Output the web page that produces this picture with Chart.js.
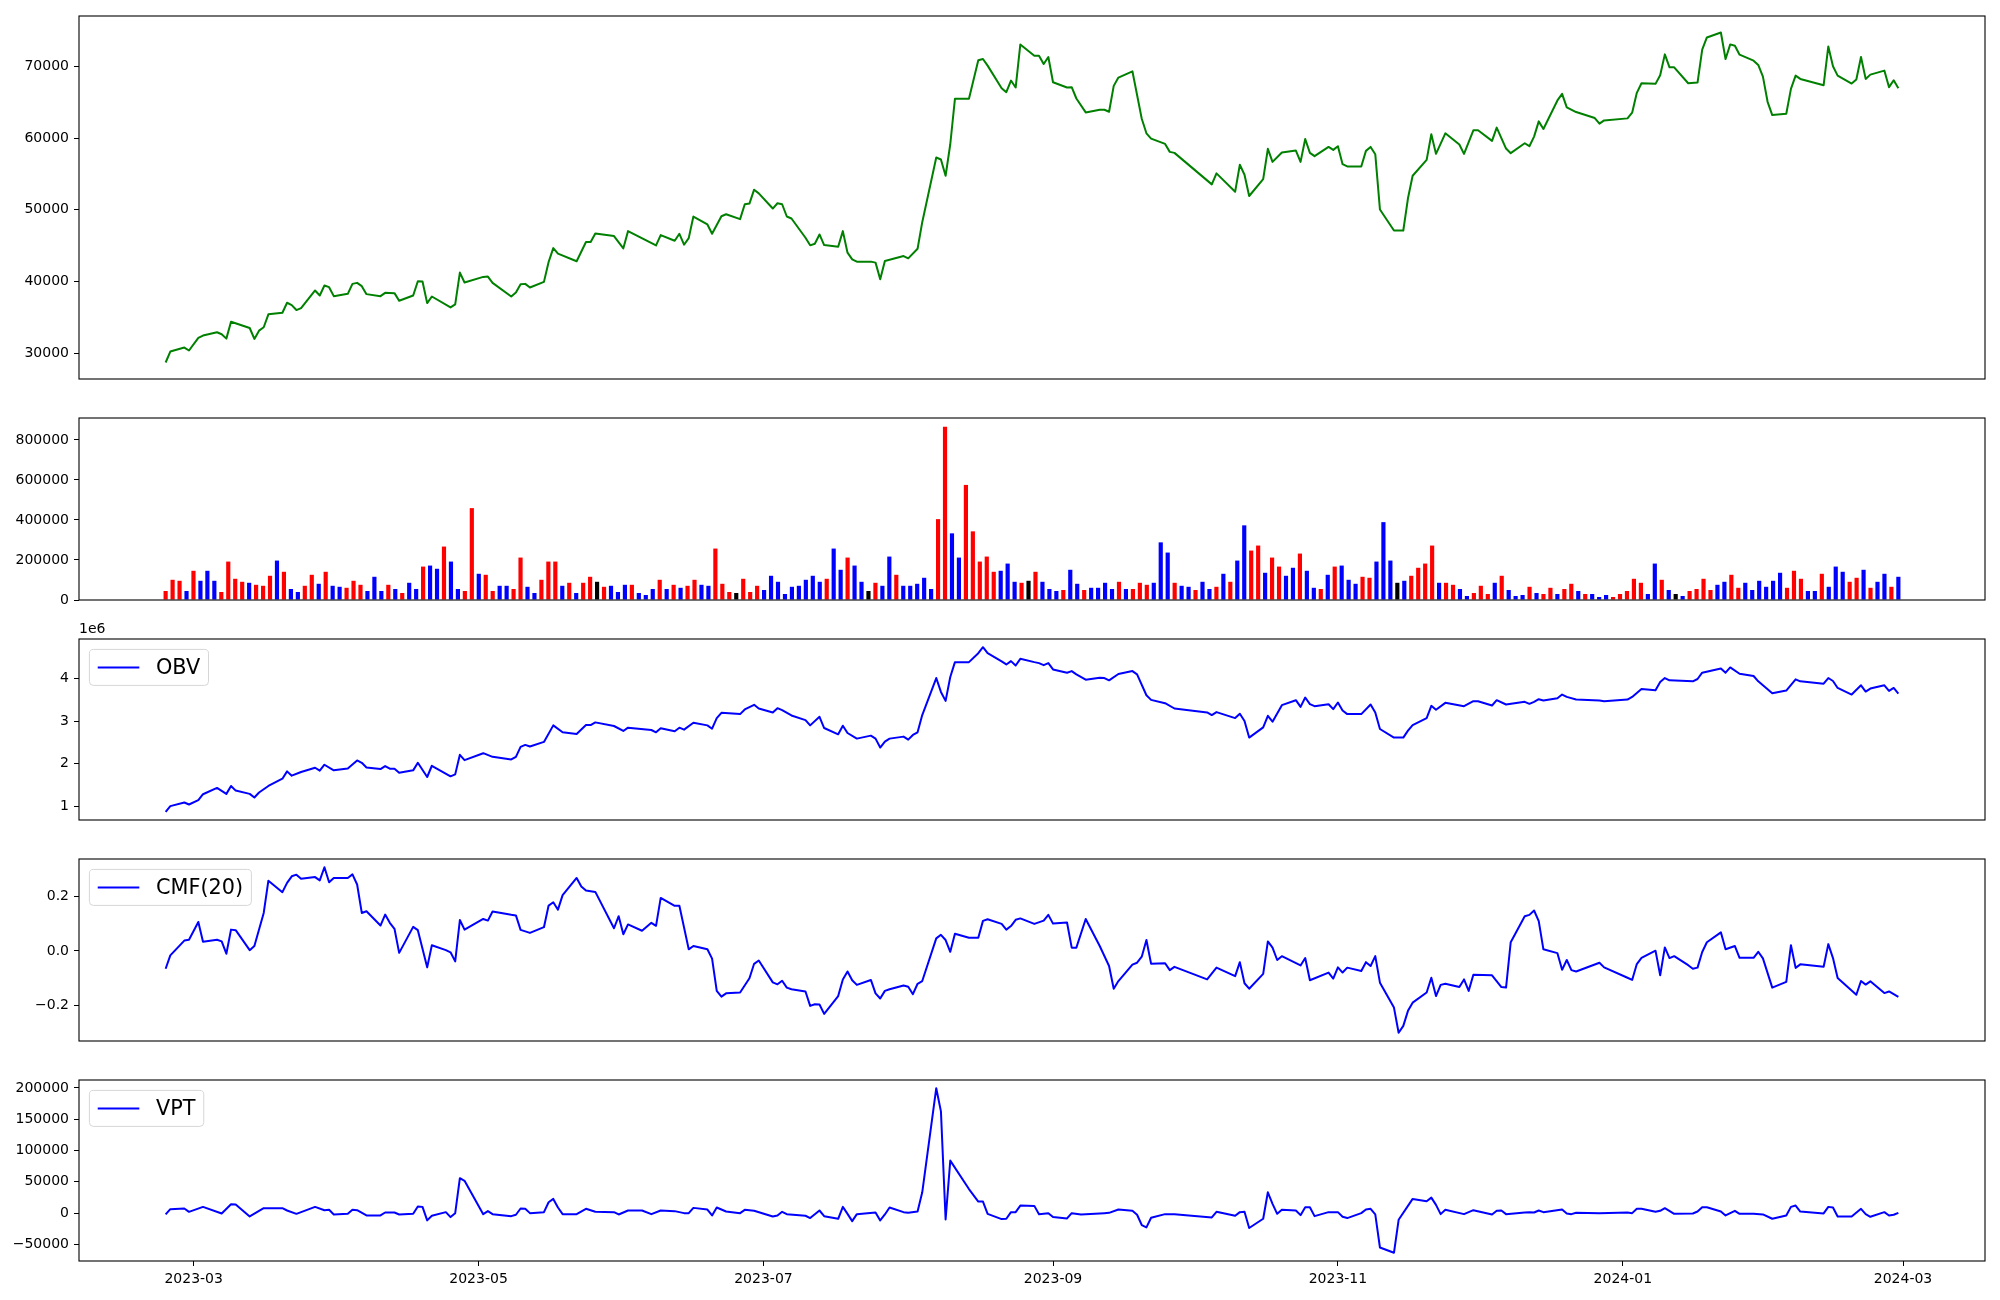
<!DOCTYPE html>
<html>
<head>
<meta charset="utf-8">
<script src="https://cdn.jsdelivr.net/npm/chart.js@4.4.1/dist/chart.umd.min.js"></script>
<style>
  html, body { margin: 0; padding: 0; background: #fff; }
  #fig { position: relative; width: 2000px; height: 1300px; overflow: hidden; }
  .panel { position: absolute; left: 0; width: 2000px; }
</style>
</head>
<body>
<div id="fig"></div>
<script>
// ---- price (close) ----
const priceDates = [
  '2023-02-23','2023-02-24','2023-02-27','2023-02-28','2023-03-02','2023-03-03','2023-03-06','2023-03-07','2023-03-08','2023-03-09',
  '2023-03-13','2023-03-14','2023-03-15','2023-03-16','2023-03-17','2023-03-20','2023-03-21','2023-03-22','2023-03-23','2023-03-24',
  '2023-03-27','2023-03-28','2023-03-29','2023-03-30','2023-03-31','2023-04-03','2023-04-04','2023-04-05','2023-04-06','2023-04-07',
  '2023-04-10','2023-04-11','2023-04-13','2023-04-14','2023-04-17','2023-04-18','2023-04-19','2023-04-20','2023-04-21','2023-04-25',
  '2023-04-26','2023-04-27','2023-04-28','2023-05-02','2023-05-03','2023-05-04','2023-05-08','2023-05-09','2023-05-10','2023-05-11',
  '2023-05-12','2023-05-15','2023-05-16','2023-05-17','2023-05-18','2023-05-22','2023-05-24','2023-05-25','2023-05-26','2023-05-30',
  '2023-06-01','2023-06-02','2023-06-08','2023-06-09','2023-06-12','2023-06-13','2023-06-14','2023-06-15','2023-06-16','2023-06-19',
  '2023-06-20','2023-06-22','2023-06-23','2023-06-26','2023-06-27','2023-06-28','2023-06-29','2023-06-30','2023-07-03','2023-07-04',
  '2023-07-05','2023-07-06','2023-07-07','2023-07-10','2023-07-11','2023-07-12','2023-07-13','2023-07-14','2023-07-17','2023-07-18',
  '2023-07-19','2023-07-20','2023-07-21','2023-07-24','2023-07-25','2023-07-26','2023-07-27','2023-07-31','2023-08-01','2023-08-03',
  '2023-08-04','2023-08-07','2023-08-08','2023-08-09','2023-08-10','2023-08-11','2023-08-14','2023-08-16','2023-08-17','2023-08-18',
  '2023-08-21','2023-08-22','2023-08-23','2023-08-24','2023-08-25','2023-08-28','2023-08-29','2023-08-30','2023-08-31','2023-09-01',
  '2023-09-04','2023-09-05','2023-09-06','2023-09-08','2023-09-11','2023-09-12','2023-09-13','2023-09-14','2023-09-15','2023-09-18',
  '2023-09-20','2023-09-21','2023-09-22','2023-09-25','2023-09-26','2023-09-27','2023-10-05','2023-10-06','2023-10-10','2023-10-11',
  '2023-10-12','2023-10-13','2023-10-16','2023-10-17','2023-10-18','2023-10-20','2023-10-23','2023-10-24','2023-10-25','2023-10-26',
  '2023-10-27','2023-10-30','2023-10-31','2023-11-01','2023-11-02','2023-11-03','2023-11-06','2023-11-07','2023-11-08','2023-11-09',
  '2023-11-10','2023-11-13','2023-11-15','2023-11-16','2023-11-17','2023-11-20','2023-11-21','2023-11-22','2023-11-24','2023-11-27',
  '2023-11-28','2023-11-30','2023-12-01','2023-12-04','2023-12-05','2023-12-07','2023-12-08','2023-12-11','2023-12-12','2023-12-13',
  '2023-12-14','2023-12-15','2023-12-18','2023-12-19','2023-12-20','2023-12-22','2023-12-26','2023-12-27','2023-12-28','2024-01-02',
  '2024-01-03','2024-01-04','2024-01-05','2024-01-08','2024-01-09','2024-01-10','2024-01-11','2024-01-12','2024-01-15','2024-01-17',
  '2024-01-18','2024-01-19','2024-01-22','2024-01-23','2024-01-24','2024-01-25','2024-01-26','2024-01-29','2024-01-30','2024-01-31',
  '2024-02-01','2024-02-02','2024-02-05','2024-02-06','2024-02-07','2024-02-08','2024-02-13','2024-02-14','2024-02-15','2024-02-16',
  '2024-02-19','2024-02-20','2024-02-21','2024-02-22','2024-02-23','2024-02-26','2024-02-27','2024-02-28','2024-02-29'
];
const priceValues = [
  28720,30250,30800,30390,32150,32470,32930,32660,32050,34410,
  33530,32010,33160,33630,35430,35660,37050,36720,36030,36310,
  38760,38060,39450,39220,37970,38290,39680,39820,39360,38250,
  37970,38430,38390,37320,38060,40050,40010,37000,37920,36400,
  36820,41250,39870,40650,40700,39820,37920,38480,39630,39680,
  39170,39960,42730,44670,43890,42830,45510,45510,46710,46340,
  44630,47030,45040,46480,45690,46660,45140,46060,49070,47960,
  46660,49110,49390,48700,50780,50870,52810,52300,50180,50920,
  50780,49070,48790,46110,45050,45280,46570,45090,44860,47030,
  44030,43100,42780,42780,42640,40330,42870,43560,43240,44580,
  48280,57290,57020,54750,59140,65480,65480,70840,71030,70100,
  66960,66400,68020,67050,73060,71490,71490,70330,71300,67790,
  67050,67100,65520,63580,63950,63950,63670,67280,68440,69310,
  62700,60670,59930,59190,58080,57940,53550,55080,52530,56280,
  54890,51930,54290,58500,56690,57990,58270,56690,59880,57940,
  57480,58770,58360,58870,56370,56050,56050,58220,58770,57760,
  50040,47120,47120,51610,54750,56970,60530,57800,60670,59100,
  57800,61090,61090,59610,61460,58540,57900,59280,58870,60210,
  62330,61270,65250,66170,64280,63630,62800,62010,62470,62750,
  63540,66310,67650,67560,68760,71670,69870,69870,67650,67740,
  72320,74030,74720,71030,73060,72870,71630,70790,70190,68570,
  65060,63210,63400,66860,68710,68250,67370,72780,70010,68710,
  67600,68160,71300,68250,68850,69410,67100,68070,66960
];

// ---- volume, one bar per trading day (r = up, b = down, k = flat) ----
const volumes = [
  45000,101000,96000,45000,146000,96000,146000,96000,40000,192000,
  106000,91000,86000,76000,71000,121000,197000,141000,55000,40000,
  71000,126000,81000,141000,71000,66000,61000,96000,76000,45000,
  116000,45000,76000,55000,35000,86000,55000,167000,172000,156000,
  267000,192000,55000,45000,459000,131000,126000,45000,71000,71000,
  55000,212000,66000,35000,101000,192000,192000,71000,86000,35000,
  86000,116000,91000,66000,71000,40000,76000,76000,35000,25000,
  55000,101000,55000,76000,61000,71000,101000,76000,71000,257000,
  81000,40000,35000,106000,40000,71000,50000,121000,91000,30000,
  66000,71000,101000,121000,91000,106000,257000,151000,212000,172000,
  91000,45000,86000,71000,217000,126000,71000,71000,81000,111000,
  55000,404000,866000,333000,212000,575000,343000,192000,217000,141000,
  146000,182000,91000,86000,96000,141000,91000,55000,45000,50000,
  151000,81000,50000,61000,61000,86000,55000,91000,55000,55000,
  86000,76000,86000,288000,237000,86000,71000,66000,50000,91000,
  55000,66000,131000,91000,197000,373000,247000,272000,136000,212000,
  167000,121000,161000,232000,146000,61000,55000,126000,167000,172000,
  101000,81000,116000,111000,192000,389000,197000,86000,96000,121000,
  161000,182000,272000,86000,86000,76000,55000,20000,35000,71000,
  30000,86000,121000,50000,20000,25000,66000,35000,30000,61000,
  30000,55000,81000,45000,30000,30000,15000,25000,15000,30000,
  45000,106000,86000,30000,182000,101000,50000,30000,20000,45000,
  55000,106000,50000,76000,91000,126000,61000,86000,50000,96000,
  66000,96000,136000,61000,146000,106000,45000,45000,131000,66000,
  167000,141000,91000,111000,151000,61000,91000,131000,66000,116000
];
const volumeSide = [
  'rrrbrbbbrr','rrbrrrbrbb','rrbrbbrrrb','bbrbrbbrbb','rbbrrbrrbb',
  'rrbbrrrbrb','rrkrbbbrbb','brbrbrrbbr','rrkrrrbbbb','bbbbbrbbrb',
  'bkrbbrbbbb','brrbbrrrrr','bbbrkrbbbr','bbrbbbbrbr','rrbbbrbbrb',
  'brbrbbrrbr','rbbrbbrbrb','bbrrbbbkbr','rrrbrrbbrr','rbrbbbrbrr',
  'brrbrbbbrr','rrrbbrbkbr','rrrbbrrbbb','bbbrrrbbrb','bbrrbrbbrb'
].join('');

// ---- OBV ----
const obvDates = [
  '2023-02-23','2023-02-24','2023-02-27','2023-02-28','2023-03-02','2023-03-03','2023-03-06','2023-03-08','2023-03-09','2023-03-10',
  '2023-03-13','2023-03-14','2023-03-15','2023-03-17','2023-03-20','2023-03-21','2023-03-22','2023-03-24','2023-03-27','2023-03-28',
  '2023-03-29','2023-03-31','2023-04-03','2023-04-05','2023-04-06','2023-04-07','2023-04-10','2023-04-11','2023-04-12','2023-04-13',
  '2023-04-14','2023-04-17','2023-04-18','2023-04-20','2023-04-21','2023-04-25','2023-04-26','2023-04-27','2023-04-28','2023-05-02',
  '2023-05-04','2023-05-08','2023-05-09','2023-05-10','2023-05-11','2023-05-12','2023-05-15','2023-05-17','2023-05-19','2023-05-22',
  '2023-05-24','2023-05-25','2023-05-26','2023-05-30','2023-06-01','2023-06-02','2023-06-07','2023-06-08','2023-06-09','2023-06-12',
  '2023-06-13','2023-06-14','2023-06-16','2023-06-19','2023-06-20','2023-06-21','2023-06-22','2023-06-26','2023-06-27','2023-06-29',
  '2023-06-30','2023-07-03','2023-07-04','2023-07-05','2023-07-07','2023-07-10','2023-07-11','2023-07-13','2023-07-14','2023-07-17',
  '2023-07-18','2023-07-19','2023-07-21','2023-07-24','2023-07-25','2023-07-26','2023-07-27','2023-07-28','2023-07-31','2023-08-01',
  '2023-08-02','2023-08-03','2023-08-04','2023-08-07','2023-08-08','2023-08-09','2023-08-10','2023-08-11','2023-08-14','2023-08-16',
  '2023-08-17','2023-08-18','2023-08-21','2023-08-22','2023-08-23','2023-08-24','2023-08-25','2023-08-28','2023-08-29','2023-08-30',
  '2023-08-31','2023-09-01','2023-09-04','2023-09-05','2023-09-06','2023-09-08','2023-09-11','2023-09-12','2023-09-13','2023-09-15',
  '2023-09-18','2023-09-19','2023-09-21','2023-09-22','2023-09-25','2023-09-27','2023-10-04','2023-10-05','2023-10-06','2023-10-10',
  '2023-10-11','2023-10-12','2023-10-13','2023-10-16','2023-10-17','2023-10-18','2023-10-20','2023-10-23','2023-10-24','2023-10-25',
  '2023-10-26','2023-10-27','2023-10-30','2023-10-31','2023-11-01','2023-11-02','2023-11-03','2023-11-06','2023-11-08','2023-11-09',
  '2023-11-10','2023-11-13','2023-11-15','2023-11-16','2023-11-17','2023-11-20','2023-11-21','2023-11-22','2023-11-24','2023-11-28',
  '2023-11-30','2023-12-01','2023-12-04','2023-12-05','2023-12-07','2023-12-11','2023-12-12','2023-12-13','2023-12-14','2023-12-15',
  '2023-12-18','2023-12-19','2023-12-20','2023-12-22','2023-12-27','2023-12-28','2024-01-02','2024-01-03','2024-01-05','2024-01-08',
  '2024-01-09','2024-01-10','2024-01-11','2024-01-16','2024-01-17','2024-01-18','2024-01-22','2024-01-23','2024-01-24','2024-01-26',
  '2024-01-29','2024-01-30','2024-01-31','2024-02-02','2024-02-05','2024-02-07','2024-02-08','2024-02-13','2024-02-14','2024-02-15',
  '2024-02-16','2024-02-19','2024-02-21','2024-02-22','2024-02-23','2024-02-26','2024-02-27','2024-02-28','2024-02-29'
];
const obvValues = [
  871000,1003000,1089000,1042000,1143000,1283000,1431000,1291000,1477000,1368000,
  1291000,1205000,1322000,1477000,1648000,1819000,1718000,1804000,1905000,1835000,
  1975000,1843000,1889000,2076000,2021000,1912000,1874000,1944000,1881000,1881000,
  1788000,1843000,2021000,1687000,1951000,1703000,1749000,2208000,2083000,2246000,
  2161000,2099000,2161000,2394000,2441000,2402000,2511000,2899000,2736000,2697000,
  2907000,2907000,2969000,2884000,2767000,2845000,2790000,2736000,2829000,2759000,
  2845000,2798000,2961000,2899000,2821000,3070000,3194000,3163000,3272000,3381000,
  3295000,3202000,3303000,3257000,3132000,3023000,2899000,3101000,2837000,2689000,
  2891000,2720000,2588000,2658000,2588000,2378000,2518000,2588000,2635000,2565000,
  2674000,2736000,3140000,4010000,3684000,3474000,4034000,4383000,4383000,4593000,
  4733000,4593000,4400000,4329000,4407000,4305000,4461000,4383000,4360000,4313000,
  4360000,4212000,4135000,4173000,4096000,3971000,4018000,4010000,3956000,4104000,
  4173000,4096000,3606000,3497000,3420000,3295000,3202000,3140000,3210000,3070000,
  3171000,3000000,2612000,2853000,3124000,2985000,3373000,3490000,3334000,3552000,
  3396000,3350000,3396000,3280000,3435000,3249000,3163000,3163000,3389000,3202000,
  2814000,2612000,2612000,2775000,2907000,3070000,3358000,3264000,3428000,3350000,
  3466000,3466000,3365000,3490000,3389000,3451000,3404000,3451000,3513000,3482000,
  3536000,3622000,3567000,3505000,3482000,3466000,3505000,3567000,3754000,3723000,
  3917000,4010000,3956000,3933000,3987000,4135000,4236000,4135000,4259000,4111000,
  4057000,3933000,3839000,3653000,3715000,3979000,3933000,3878000,4010000,3940000,
  3777000,3622000,3839000,3692000,3762000,3839000,3707000,3777000,3645000
];

// ---- CMF(20) ----
const cmfDates = [
  '2023-02-23','2023-02-24','2023-02-27','2023-02-28','2023-03-02','2023-03-03','2023-03-06','2023-03-07','2023-03-08','2023-03-09',
  '2023-03-10','2023-03-13','2023-03-14','2023-03-16','2023-03-17','2023-03-20','2023-03-21','2023-03-22','2023-03-23','2023-03-24',
  '2023-03-27','2023-03-28','2023-03-29','2023-03-30','2023-03-31','2023-04-03','2023-04-04','2023-04-05','2023-04-06','2023-04-07',
  '2023-04-10','2023-04-11','2023-04-12','2023-04-13','2023-04-14','2023-04-17','2023-04-18','2023-04-20','2023-04-21','2023-04-24',
  '2023-04-25','2023-04-26','2023-04-27','2023-04-28','2023-05-02','2023-05-03','2023-05-04','2023-05-08','2023-05-09','2023-05-10',
  '2023-05-12','2023-05-15','2023-05-16','2023-05-17','2023-05-18','2023-05-19','2023-05-22','2023-05-23','2023-05-24','2023-05-26',
  '2023-05-30','2023-05-31','2023-06-01','2023-06-02','2023-06-05','2023-06-07','2023-06-08','2023-06-09','2023-06-12','2023-06-13',
  '2023-06-15','2023-06-16','2023-06-19','2023-06-20','2023-06-21','2023-06-22','2023-06-23','2023-06-26','2023-06-28','2023-06-29',
  '2023-06-30','2023-07-03','2023-07-04','2023-07-05','2023-07-06','2023-07-07','2023-07-10','2023-07-11','2023-07-12','2023-07-13',
  '2023-07-14','2023-07-17','2023-07-18','2023-07-19','2023-07-20','2023-07-21','2023-07-24','2023-07-25','2023-07-26','2023-07-27',
  '2023-07-28','2023-07-31','2023-08-01','2023-08-02','2023-08-03','2023-08-04','2023-08-07','2023-08-08','2023-08-09','2023-08-10',
  '2023-08-11','2023-08-14','2023-08-16','2023-08-17','2023-08-18','2023-08-21','2023-08-22','2023-08-23','2023-08-24','2023-08-25',
  '2023-08-28','2023-08-30','2023-08-31','2023-09-01','2023-09-04','2023-09-05','2023-09-06','2023-09-08','2023-09-11','2023-09-13',
  '2023-09-14','2023-09-15','2023-09-18','2023-09-19','2023-09-20','2023-09-21','2023-09-22','2023-09-25','2023-09-26','2023-09-27',
  '2023-10-04','2023-10-06','2023-10-10','2023-10-11','2023-10-12','2023-10-13','2023-10-16','2023-10-17','2023-10-18','2023-10-19',
  '2023-10-20','2023-10-24','2023-10-25','2023-10-26','2023-10-30','2023-10-31','2023-11-01','2023-11-02','2023-11-03','2023-11-06',
  '2023-11-07','2023-11-08','2023-11-09','2023-11-10','2023-11-13','2023-11-14','2023-11-15','2023-11-16','2023-11-17','2023-11-20',
  '2023-11-21','2023-11-22','2023-11-23','2023-11-24','2023-11-27','2023-11-28','2023-11-29','2023-11-30','2023-12-04','2023-12-06',
  '2023-12-07','2023-12-08','2023-12-11','2023-12-12','2023-12-13','2023-12-14','2023-12-15','2023-12-18','2023-12-19','2023-12-20',
  '2023-12-21','2023-12-22','2023-12-27','2023-12-28','2024-01-02','2024-01-03','2024-01-04','2024-01-05','2024-01-08','2024-01-09',
  '2024-01-10','2024-01-11','2024-01-12','2024-01-15','2024-01-16','2024-01-17','2024-01-18','2024-01-19','2024-01-22','2024-01-23',
  '2024-01-25','2024-01-26','2024-01-29','2024-01-30','2024-01-31','2024-02-02','2024-02-05','2024-02-06','2024-02-07','2024-02-08',
  '2024-02-13','2024-02-14','2024-02-15','2024-02-16','2024-02-20','2024-02-21','2024-02-22','2024-02-23','2024-02-26','2024-02-27',
  '2024-02-29'
];
const cmfValues = [
  -0.065,-0.016,0.038,0.041,0.106,0.034,0.041,0.035,-0.010,0.078,
  0.076,0.003,0.018,0.139,0.257,0.215,0.249,0.273,0.279,0.264,
  0.270,0.258,0.306,0.251,0.267,0.267,0.280,0.243,0.139,0.145,
  0.093,0.133,0.103,0.081,-0.007,0.088,0.076,-0.060,0.021,0.003,
  -0.005,-0.038,0.113,0.078,0.117,0.111,0.144,0.132,0.130,0.077,
  0.066,0.087,0.166,0.178,0.151,0.204,0.267,0.236,0.221,0.216,
  0.083,0.127,0.061,0.097,0.074,0.103,0.092,0.194,0.165,0.165,
  0.006,0.018,0.006,-0.028,-0.146,-0.167,-0.155,-0.152,-0.100,-0.047,
  -0.035,-0.115,-0.122,-0.109,-0.134,-0.140,-0.148,-0.201,-0.195,-0.196,
  -0.230,-0.165,-0.104,-0.075,-0.107,-0.124,-0.106,-0.155,-0.174,-0.146,
  -0.140,-0.126,-0.131,-0.158,-0.120,-0.110,0.046,0.059,0.040,-0.003,
  0.063,0.048,0.048,0.110,0.116,0.099,0.078,0.091,0.114,0.119,
  0.099,0.111,0.132,0.100,0.104,0.012,0.012,0.117,0.018,-0.055,
  -0.138,-0.110,-0.050,-0.043,-0.021,0.040,-0.047,-0.045,-0.070,-0.058,
  -0.104,-0.061,-0.092,-0.041,-0.118,-0.138,-0.084,0.035,0.012,-0.033,
  -0.019,-0.053,-0.026,-0.107,-0.079,-0.101,-0.060,-0.079,-0.061,-0.073,
  -0.041,-0.055,-0.019,-0.116,-0.207,-0.299,-0.274,-0.219,-0.189,-0.152,
  -0.098,-0.165,-0.124,-0.120,-0.132,-0.104,-0.146,-0.087,-0.089,-0.132,
  -0.134,0.032,0.127,0.132,0.148,0.109,0.006,-0.008,-0.069,-0.033,
  -0.070,-0.075,-0.043,-0.060,-0.098,-0.106,-0.048,-0.025,0.001,-0.089,
  0.013,-0.026,-0.019,-0.052,-0.065,-0.061,-0.004,0.032,0.068,0.006,
  0.018,-0.025,-0.025,-0.003,-0.027,-0.134,-0.113,0.021,-0.062,-0.049,
  -0.058,0.025,-0.026,-0.099,-0.160,-0.110,-0.123,-0.111,-0.154,-0.148,
  -0.168
];

// ---- VPT ----
const vptDates = [
  '2023-02-23','2023-02-24','2023-02-27','2023-02-28','2023-03-03','2023-03-07','2023-03-09','2023-03-10','2023-03-13','2023-03-16',
  '2023-03-20','2023-03-21','2023-03-23','2023-03-27','2023-03-29','2023-03-30','2023-03-31','2023-04-03','2023-04-04','2023-04-05',
  '2023-04-07','2023-04-10','2023-04-11','2023-04-13','2023-04-14','2023-04-17','2023-04-18','2023-04-19','2023-04-20','2023-04-21',
  '2023-04-24','2023-04-25','2023-04-26','2023-04-27','2023-04-28','2023-05-02','2023-05-03','2023-05-04','2023-05-08','2023-05-09',
  '2023-05-10','2023-05-11','2023-05-12','2023-05-15','2023-05-16','2023-05-17','2023-05-18','2023-05-19','2023-05-22','2023-05-24',
  '2023-05-26','2023-05-30','2023-05-31','2023-06-02','2023-06-05','2023-06-07','2023-06-09','2023-06-12','2023-06-14','2023-06-15',
  '2023-06-16','2023-06-19','2023-06-20','2023-06-21','2023-06-23','2023-06-26','2023-06-27','2023-06-29','2023-07-03','2023-07-04',
  '2023-07-05','2023-07-06','2023-07-10','2023-07-11','2023-07-13','2023-07-14','2023-07-17','2023-07-18','2023-07-19','2023-07-20',
  '2023-07-21','2023-07-25','2023-07-26','2023-07-27','2023-07-28','2023-07-31','2023-08-01','2023-08-03','2023-08-04','2023-08-07',
  '2023-08-08','2023-08-09','2023-08-10','2023-08-14','2023-08-16','2023-08-17','2023-08-18','2023-08-21','2023-08-22','2023-08-23',
  '2023-08-24','2023-08-25','2023-08-28','2023-08-29','2023-08-31','2023-09-01','2023-09-04','2023-09-05','2023-09-07','2023-09-12',
  '2023-09-13','2023-09-15','2023-09-18','2023-09-19','2023-09-20','2023-09-21','2023-09-22','2023-09-25','2023-09-27','2023-10-05',
  '2023-10-06','2023-10-10','2023-10-11','2023-10-12','2023-10-13','2023-10-16','2023-10-17','2023-10-18','2023-10-19','2023-10-20',
  '2023-10-23','2023-10-24','2023-10-25','2023-10-26','2023-10-27','2023-10-30','2023-11-01','2023-11-02','2023-11-03','2023-11-06',
  '2023-11-07','2023-11-08','2023-11-09','2023-11-10','2023-11-13','2023-11-14','2023-11-17','2023-11-20','2023-11-21','2023-11-22',
  '2023-11-23','2023-11-24','2023-11-28','2023-11-30','2023-12-04','2023-12-05','2023-12-06','2023-12-07','2023-12-11','2023-12-12',
  '2023-12-13','2023-12-14','2023-12-15','2023-12-19','2023-12-20','2023-12-21','2023-12-22','2023-12-27','2024-01-02','2024-01-03',
  '2024-01-04','2024-01-05','2024-01-08','2024-01-09','2024-01-10','2024-01-12','2024-01-16','2024-01-17','2024-01-18','2024-01-19',
  '2024-01-22','2024-01-23','2024-01-25','2024-01-26','2024-01-29','2024-01-31','2024-02-02','2024-02-05','2024-02-06','2024-02-07',
  '2024-02-08','2024-02-13','2024-02-14','2024-02-15','2024-02-16','2024-02-19','2024-02-21','2024-02-22','2024-02-23','2024-02-26',
  '2024-02-27','2024-02-28','2024-02-29'
];
const vptValues = [
  -2100,6300,7400,2100,10000,-500,14200,13700,-5300,7900,
  7900,4200,-1100,10000,4700,5300,-2100,-1100,5300,4700,
  -3700,-3700,1000,1000,-2100,-1100,10600,10000,-11600,-4200,
  1600,-6300,0,55900,51700,-1600,3200,-1600,-4800,-2600,
  7400,6900,0,1600,17400,22700,9000,-1600,-1600,6900,
  2100,1600,-2100,4200,4200,-1600,4200,3200,0,0,
  8400,5800,-3700,9000,2600,0,5300,3700,-5300,-3700,
  2100,-1600,-4200,-7900,4200,-4800,-9000,10000,-1100,-12700,
  -1600,1000,-11600,-2100,9000,1600,500,2600,33300,199500,
  162600,-10000,83900,38500,18500,18500,-1100,-9500,-9000,1600,
  1600,12100,11600,-1600,0,-6300,-8400,0,-2100,0,
  500,5800,3700,-2600,-19000,-22700,-7400,-1600,-1600,-6800,
  2100,-4200,1600,2100,-23800,-9000,33300,14800,-1100,5300,
  4200,-3200,9500,9500,-4800,1600,1600,-5800,-7900,0,
  5800,6900,-2100,-54900,-63300,-10600,22700,19000,24800,13200,
  -1600,5300,-1600,4700,-2100,3700,4200,-1600,1000,1600,
  1000,4200,1600,5800,-500,-1600,500,0,1000,0,
  6900,6900,2100,3700,7900,-1100,-500,2600,9500,9500,
  2600,-3700,3700,-1100,-1100,-2100,-9000,-3700,10000,12100,
  2600,-500,10000,9000,-5300,-5300,6900,-1600,-5800,1600,
  -3700,-2600,500
];

// ---- axis ticks ----
const xTickDates = ['2023-03-01','2023-05-01','2023-07-01','2023-09-01','2023-11-01','2024-01-01','2024-03-01'];
const priceTicks = [30000, 40000, 50000, 60000, 70000];
const volumeTicks = [0, 200000, 400000, 600000, 800000];
const obvTicks = [1e6, 2e6, 3e6, 4e6];
const cmfTicks = [-0.2, 0, 0.2];
const vptTicks = [-50000, 0, 50000, 100000, 150000, 200000];

// ---------------------------------------------------------------
const DAY0 = Date.UTC(2023, 1, 23);
const dayOf = s => { const [y, m, d] = s.split('-').map(Number); return (Date.UTC(y, m - 1, d) - DAY0) / 864e5; };
const points = (dates, vals) => dates.map((d, i) => ({ x: dayOf(d), y: vals[i] }));
const minus = s => String(s).replace('-', '\u2212');
// matplotlib-style 5% auto margins
function margins(vals, floor) {
  const lo = floor !== undefined ? floor : Math.min(...vals);
  const hi = Math.max(...vals);
  const r = hi - lo;
  return [floor !== undefined ? floor : lo - 0.05 * r, hi + 0.05 * r];
}
const dateRange = margins([dayOf(priceDates[0]), dayOf(priceDates[priceDates.length - 1])]);
const indexRange = margins([0, volumes.length - 1]);
const sideColor = { r: '#ff0000', b: '#0000ff', k: '#000000' };

Chart.defaults.font.family = "'DejaVu Sans', sans-serif";
Chart.defaults.font.size = 14;
Chart.defaults.color = '#000';
Chart.defaults.animation = false;
Chart.defaults.plugins.legend.display = false;
Chart.defaults.plugins.tooltip.enabled = false;

const AXIS_W = 79, RIGHT = 15, PAD = 20, XAXIS_H = 40;

const framePlugin = {
  id: 'frame',
  afterDraw(chart, args, opts) {
    const { ctx, chartArea: a } = chart;
    ctx.save();
    ctx.strokeStyle = '#000';
    ctx.lineWidth = 1.1;
    ctx.strokeRect(a.left, a.top, a.right - a.left, a.bottom - a.top);
    if (opts.offsetText) {
      ctx.fillStyle = '#000';
      ctx.font = "14px 'DejaVu Sans'";
      ctx.textBaseline = 'alphabetic';
      ctx.fillText(opts.offsetText, a.left, a.top - 6);
    }
    ctx.restore();
  }
};

const legendBox = {
  id: 'legendBox',
  afterDraw(chart, args, opts) {
    if (!opts.show) return;
    const { ctx, chartArea: a } = chart;
    const ds = chart.data.datasets[0];
    const fs = 20.8;
    ctx.save();
    ctx.font = fs + "px 'DejaVu Sans'";
    const tw = ctx.measureText(ds.label).width;
    const x = a.left + 0.5 * fs, y = a.top + 0.5 * fs;
    const w = 3.6 * fs + tw, h = 36;
    ctx.beginPath();
    if (ctx.roundRect) ctx.roundRect(x, y, w, h, 4); else ctx.rect(x, y, w, h);
    ctx.fillStyle = 'rgba(255,255,255,0.8)';
    ctx.fill();
    ctx.strokeStyle = '#d6d6d6';
    ctx.lineWidth = 1;
    ctx.stroke();
    const cy = y + h / 2;
    ctx.beginPath();
    ctx.moveTo(x + 0.4 * fs, cy);
    ctx.lineTo(x + 2.4 * fs, cy);
    ctx.strokeStyle = ds.borderColor;
    ctx.lineWidth = 2;
    ctx.stroke();
    ctx.fillStyle = '#000';
    ctx.textBaseline = 'middle';
    ctx.fillText(ds.label, x + 3.2 * fs, cy + 1);
    ctx.restore();
  }
};

function yAxis(range, ticks, fmt) {
  return {
    min: range[0], max: range[1],
    afterFit(s) { s.width = AXIS_W; },
    afterBuildTicks(s) { s.ticks = ticks.map(v => ({ value: v })); },
    ticks: { callback: fmt, padding: 5 },
    grid: { drawOnChartArea: false, tickLength: 5, color: '#000', lineWidth: 1 },
    border: { display: false }
  };
}

function xAxis(range, visible) {
  if (!visible) return { type: 'linear', min: range[0], max: range[1], display: false, offset: false };
  return {
    type: 'linear', min: range[0], max: range[1], offset: false,
    afterFit(s) { s.height = XAXIS_H; },
    afterBuildTicks(s) { s.ticks = xTickDates.map(d => ({ value: dayOf(d) })); },
    ticks: { callback: (v, i) => xTickDates[i].slice(0, 7), maxRotation: 0, autoSkip: false, padding: 5 },
    grid: { drawOnChartArea: false, tickLength: 5, color: '#000', lineWidth: 1 },
    border: { display: false }
  };
}

function panel(top, bottom, withXAxis, config) {
  const div = document.createElement('div');
  div.className = 'panel';
  const h = (bottom - top) + PAD + (withXAxis ? XAXIS_H : PAD);
  div.style.top = (top - PAD) + 'px';
  div.style.height = h + 'px';
  const canvas = document.createElement('canvas');
  canvas.width = 2000;
  canvas.height = h;
  div.appendChild(canvas);
  document.getElementById('fig').appendChild(div);
  config.options = Object.assign({
    responsive: false,
    devicePixelRatio: 1,
    layout: { padding: { left: 0, right: RIGHT, top: PAD, bottom: withXAxis ? 0 : PAD } }
  }, config.options);
  config.plugins = [framePlugin, legendBox];
  return new Chart(canvas, config);
}

function lineSet(label, dates, vals, color) {
  return {
    label, data: points(dates, vals), borderColor: color, borderWidth: 2,
    pointRadius: 0, tension: 0, fill: false, borderJoinStyle: 'round'
  };
}

// price
panel(16, 379, false, {
  type: 'line',
  data: { datasets: [lineSet('Close', priceDates, priceValues, '#008000')] },
  options: {
    scales: { x: xAxis(dateRange, false), y: yAxis(margins(priceValues), priceTicks, v => String(v)) },
    plugins: { legendBox: { show: false } }
  }
});

// volume bars (index axis)
panel(418, 600, false, {
  type: 'bar',
  data: {
    datasets: [{
      label: 'Volume',
      data: volumes.map((v, i) => ({ x: i, y: v })),
      backgroundColor: volumes.map((v, i) => sideColor[volumeSide[i]]),
      borderWidth: 0, barPercentage: 0.6, categoryPercentage: 1
    }]
  },
  options: {
    scales: { x: xAxis(indexRange, false), y: yAxis(margins(volumes, 0), volumeTicks, v => String(v)) },
    plugins: { legendBox: { show: false } }
  }
});

// OBV
panel(639, 820, false, {
  type: 'line',
  data: { datasets: [lineSet('OBV', obvDates, obvValues, '#0000ff')] },
  options: {
    scales: { x: xAxis(dateRange, false), y: yAxis(margins(obvValues), obvTicks, v => String(v / 1e6)) },
    plugins: { legendBox: { show: true }, frame: { offsetText: '1e6' } }
  }
});

// CMF
panel(859, 1041, false, {
  type: 'line',
  data: { datasets: [lineSet('CMF(20)', cmfDates, cmfValues, '#0000ff')] },
  options: {
    scales: { x: xAxis(dateRange, false), y: yAxis(margins(cmfValues), cmfTicks, v => minus(v.toFixed(1))) },
    plugins: { legendBox: { show: true } }
  }
});

// VPT
panel(1080, 1261, true, {
  type: 'line',
  data: { datasets: [lineSet('VPT', vptDates, vptValues, '#0000ff')] },
  options: {
    scales: { x: xAxis(dateRange, true), y: yAxis(margins(vptValues), vptTicks, v => minus(v)) },
    plugins: { legendBox: { show: true } }
  }
});
</script>
</body>
</html>
